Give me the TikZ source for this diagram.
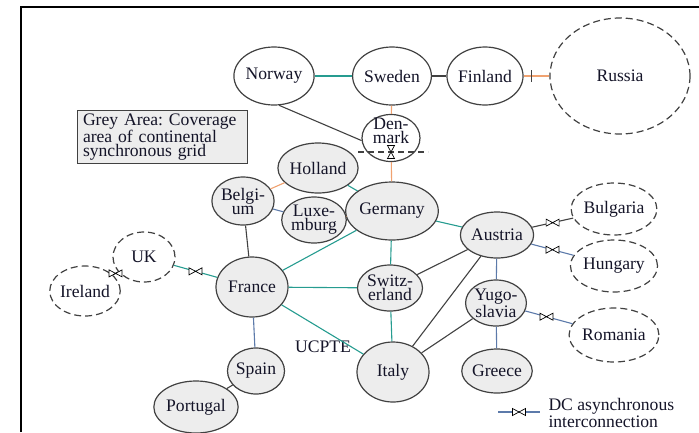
\documentclass[tikz,border=0pt]{standalone}
\usepackage{fontspec}
\setmainfont{Liberation Serif}
\usetikzlibrary{shapes.geometric,decorations.markings}
\definecolor{tealc}{RGB}{38,156,144}
\definecolor{orng}{RGB}{240,162,112}
\definecolor{blu}{RGB}{92,122,170}
\definecolor{lined}{RGB}{65,65,65}
\definecolor{gfill}{RGB}{237,237,237}
\definecolor{txt}{RGB}{20,20,40}
\tikzset{
  dcsym/.pic={\draw[black, fill=white, line width=0.7pt] (-6.5,-3.5) -- (0,0) -- (-6.5,3.5) -- cycle (6.5,-3.5) -- (0,0) -- (6.5,3.5) -- cycle;},
  dc/.style={postaction={decorate, decoration={markings, mark=at position #1 with {\pic{dcsym};}}}},
  dc/.default=0.5,
  tick/.style={postaction={decorate, decoration={markings, mark=at position #1 with {\draw[lined, line width=1.2pt] (0,-6) -- (0,6);}}}},
  tick/.default=0.3,
  f/.style={font=\fontsize{17.6}{14}\selectfont\frenchspacing, text=txt},
  cty/.style n args={2}{ellipse, draw=lined, line width=1.2pt, inner sep=0pt, f, align=center, minimum width=#1, minimum height=#2},
  syn/.style={fill=gfill},
  ext/.style={fill=white},
  asy/.style={fill=white, dash pattern=on 7pt off 4pt},
  conn/.style={line width=1.1pt},
}
\begin{document}
\begin{tikzpicture}[x=1pt,y=-1pt]
\useasboundingbox (0,0) rectangle (699,432);
\coordinate (fbl) at (21,432);
\coordinate (ftl) at (21,7);
\coordinate (ftr) at (699,7);
\draw[black, line width=2.5pt] (fbl) -- (ftl) -- (ftr);

% nodes
\node[cty={72pt}{58pt}, ext] (no) at (274,76) {Norway};
\node[cty={70pt}{58pt}, ext] (sw) at (392,76) {Sweden};
\node[cty={70pt}{58pt}, ext] (fi) at (485,76) {Finland};
\node[cty={140pt}{116pt}, asy] (ru) at (620,76) {Russia};
\node[cty={58pt}{47pt}, ext] (dm) at (391,138) {};
\node[f, align=center, inner sep=0pt] (dmt) at (391,131) {Den-\\mark};
\node[cty={62pt}{50pt}, syn] (ho) at (318,168) {Holland};
\node[cty={58pt}{48pt}, syn] (be) at (243,201) {Belgi-\\um};
\node[cty={58pt}{46pt}, syn] (lu) at (314,220) {Luxe-\\mburg};
\node[cty={70pt}{58pt}, syn] (ge) at (392,211) {Germany};
\node[cty={72pt}{60pt}, syn] (fr) at (252,287) {France};
\node[cty={56pt}{46pt}, syn] (ch) at (390,288) {Switz-\\erland};
\node[cty={72pt}{60pt}, syn] (it) at (393,372) {Italy};
\node[cty={56pt}{46pt}, syn] (at) at (497,235) {Austria};
\node[cty={56pt}{46pt}, syn] (yu) at (496,303) {Yugo-\\slavia};
\node[cty={56pt}{44pt}, syn] (gr) at (497,371) {Greece};
\node[cty={64pt}{52pt}, asy] (bg) at (614,209) {Bulgaria};
\node[cty={64pt}{52pt}, asy] (hu) at (614,266) {Hungary};
\node[cty={64pt}{54pt}, asy] (ro) at (614,335) {Romania};
\node[cty={62pt}{50pt}, asy] (uk) at (144,257) {UK};
\node[cty={62pt}{50pt}, asy] (ie) at (85,291) {Ireland};
\node[cty={57pt}{46pt}, syn] (es) at (256,371) {Spain};
\node[cty={62pt}{52pt}, syn] (pt) at (196,407) {Portugal};

\node[draw=lined, fill=gfill, line width=1pt, f, text width=158pt, align=left, inner xsep=6pt, inner ysep=3pt, minimum height=52pt] (area) at (162,137) {Grey Area: Coverage\\area of continental\\synchronous grid};
\node[f] (uc) at (323,347) {UCPTE};

% connections
\draw[conn, tealc] (no) -- (sw);
\draw[conn, lined] (sw) -- (fi);
\draw[conn, orng, tick] (fi) -- (ru);
\draw[conn, lined] (no.280) -- (dm.185);
\draw[conn, orng] (sw) -- (dm);
\draw[conn, orng] (dm) -- (ge);
\draw[conn, tealc] (ho) -- (ge);
\draw[conn, orng] (be) -- (ho);
\draw[conn, blu] (be) -- (lu);
\draw[conn, orng] (lu) -- (ge);
\draw[conn, lined] (be) -- (fr);
\draw[conn, tealc] (fr) -- (ge);
\draw[conn, tealc] (ge) -- (ch);
\draw[conn, tealc] (ge) -- (at);
\draw[conn, tealc] (fr) -- (ch);
\draw[conn, tealc] (fr) -- (it);
\draw[conn, tealc] (ch) -- (it);
\draw[conn, lined] (ch) -- (at);
\draw[conn, lined] (at) -- (it);
\draw[conn, lined] (yu) -- (it);
\draw[conn, blu] (at) -- (yu);
\draw[conn, blu] (yu) -- (gr);
\draw[conn, lined, dc] (at) -- (bg);
\draw[conn, blu, dc] (at) -- (hu);
\draw[conn, blu, dc=0.45] (yu) -- (ro);
\draw[conn, tealc, dc] (uk) -- (fr);
\draw[conn, lined, dc] (ie) -- (uk);
\draw[conn, blu] (fr) -- (es);
\draw[conn, lined] (es) -- (pt);

% Denmark boundary
\coordinate (dbl) at (358,152);
\coordinate (dbr) at (428,152);
\draw[lined, line width=1.1pt, dash pattern=on 6pt off 4pt] (dbl) -- (dbr);
\pic[rotate=90] at (391,152) {dcsym};

% legend
\coordinate (l1) at (498,412);
\coordinate (l2) at (540,412);
\draw[conn, blu, dc] (l1) -- (l2);
\node[f, anchor=west, align=left] (leg) at (545,413) {DC asynchronous\\interconnection};
\end{tikzpicture}
\end{document}
